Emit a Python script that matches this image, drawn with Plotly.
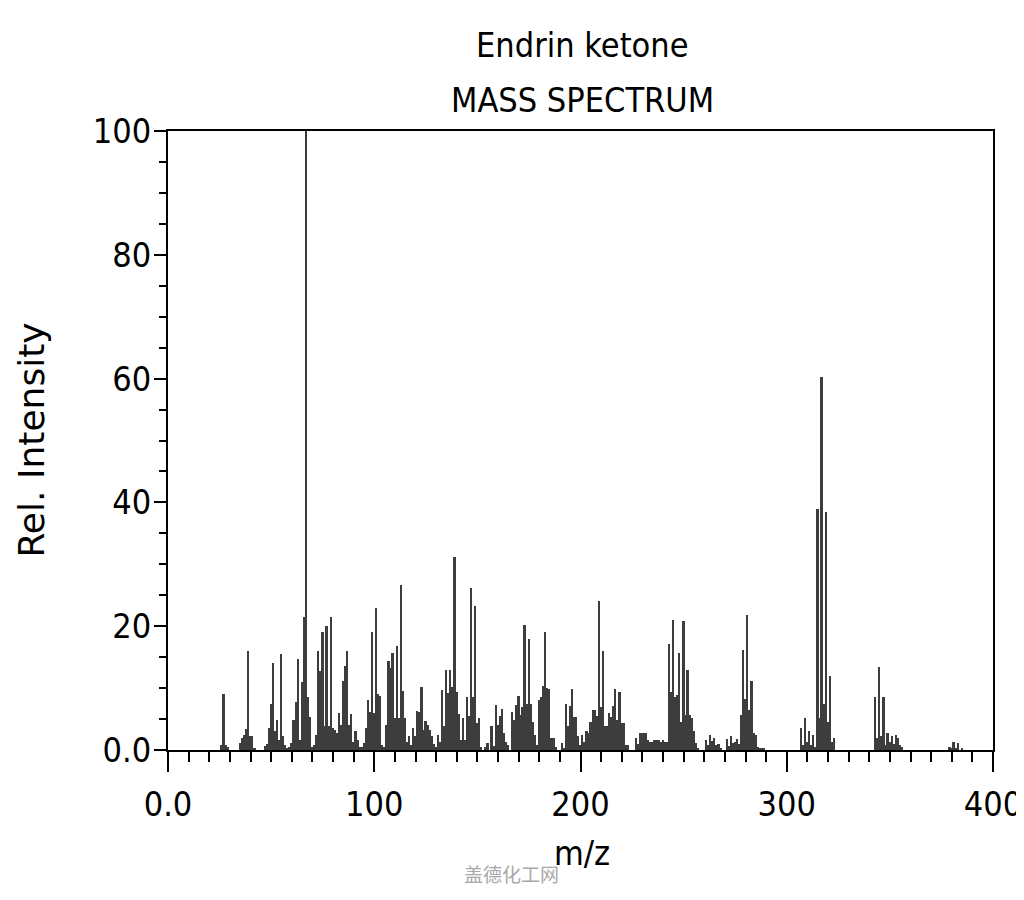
import plotly.graph_objects as go

# m/z values and relative intensities
mz = [26, 27, 28, 29, 35, 36, 37, 38, 39, 40, 41, 42,
      47, 48, 49, 50, 51, 52, 53, 54, 55, 56, 57, 58, 59,
      60, 61, 62, 63, 64, 65, 66, 67, 68, 69, 70, 71,
      72, 73, 74, 75, 76, 77, 78, 79, 80, 81, 82, 83, 84, 85, 86, 87, 88, 89,
      90, 91, 92, 93, 94, 95, 96, 97, 98, 99, 100, 101, 102, 103, 104, 105,
      106, 107, 108, 109, 110, 111, 112, 113, 114, 115, 116, 117, 118, 119,
      120, 121, 122, 123, 124, 125, 126, 127, 128, 129, 130,
      131, 132, 133, 134, 135, 136, 137, 138, 139, 140, 141, 142, 143, 144,
      145, 146, 147, 148, 149, 150, 151, 152,
      154, 155, 157, 158, 159, 160, 161, 162, 163, 164, 165,
      167, 168, 169, 170, 171, 172, 173, 174, 175, 176, 177, 178, 179,
      180, 181, 182, 183, 184, 185, 186, 187, 188,
      191, 192, 193, 194, 195, 196, 197, 198, 199, 200, 201, 202, 203, 204,
      205, 206, 207, 208, 209, 210, 211, 212, 213, 214, 215, 216, 217, 218,
      219, 220, 221, 222, 223,
      227, 228, 229, 230, 231, 232, 233, 234, 235, 236, 237, 238, 239, 240,
      241, 242, 243, 244, 245, 246, 247, 248, 249, 250, 251, 252, 253, 254,
      255, 256, 257,
      261, 262, 263, 264, 265, 266, 267, 268,
      271, 272, 273, 274, 275, 276, 277, 278, 279, 280, 281, 282, 283, 284,
      285, 286, 287, 288, 289,
      307, 308, 309, 310, 311, 312, 313, 314, 315, 316, 317, 318, 319, 320,
      321, 322, 323,
      343, 344, 345, 346, 347, 348, 349, 350, 351, 352, 353, 354, 355, 356,
      379, 380, 381, 382, 383, 385]

intensity = [0.8, 9.0, 0.8, 0.5, 1.1, 2.0, 2.4, 3.4, 16.0, 2.3, 2.2, 0.4,
             0.7, 1.0, 3.5, 7.4, 14.0, 3.0, 4.8, 1.6, 15.5, 2.3, 0.8, 0.3, 0.5,
             1.2, 4.8, 7.8, 14.7, 1.6, 11.0, 21.5, 100.0, 8.5, 5.4, 0.5, 0.8,
             2.4, 16.0, 12.7, 19.0, 3.8, 20.1, 3.8, 21.5, 3.5, 3.2, 2.7, 6.0, 4.0, 11.2, 13.6, 16.0, 4.0, 5.8,
             1.3, 3.1, 1.6, 0.5, 0.5, 1.1, 3.5, 8.1, 6.2, 19.0, 5.9, 22.9, 9.0, 8.8, 0.8, 0.5,
             4.0, 14.4, 13.2, 15.6, 5.1, 16.8, 5.1, 26.7, 9.6, 5.1, 1.3, 2.2, 0.8, 3.5,
             2.2, 6.3, 6.2, 10.1, 3.2, 4.7, 4.0, 3.2, 2.2, 0.9, 0.5,
             2.4, 1.3, 9.7, 3.8, 12.9, 9.2, 12.9, 10.2, 31.1, 9.4, 5.8, 1.6, 5.1, 1.6,
             8.5, 5.5, 26.1, 8.5, 23.2, 4.3, 5.2, 0.5,
             0.5, 1.1, 3.8, 0.7, 7.3, 4.0, 5.5, 6.7, 2.8, 1.3, 0.8,
             6.2, 4.8, 7.3, 8.8, 5.7, 7.0, 20.2, 7.5, 17.9, 7.5, 4.6, 2.4, 0.8,
             8.1, 8.6, 10.3, 19.0, 10.0, 9.8, 2.0, 2.0, 0.5,
             1.1, 0.3, 7.4, 3.8, 7.1, 9.8, 5.4, 5.4, 2.2, 0.8, 2.5, 1.3, 3.1, 2.7,
             4.6, 6.4, 6.4, 5.5, 24.0, 7.0, 16.0, 3.8, 3.8, 5.9, 5.4, 7.1, 9.9, 4.8,
             9.4, 4.3, 4.3, 0.8, 0.8,
             2.0, 0.9, 2.8, 2.7, 2.7, 2.7, 1.6, 1.3, 1.3, 1.6, 1.6, 1.6, 1.3, 1.6,
             1.3, 1.3, 17.2, 9.4, 21.0, 8.5, 8.9, 15.6, 4.6, 20.8, 5.7, 12.9, 5.6, 5.2,
             3.1, 1.1, 0.4,
             1.6, 0.8, 2.4, 1.5, 2.0, 0.8, 1.0, 0.4,
             1.8, 0.6, 2.2, 1.1, 1.3, 1.8, 1.0, 5.7, 16.2, 8.3, 21.8, 6.5, 11.1, 2.7,
             2.4, 0.5, 0.4, 0.4, 0.3,
             3.5, 0.8, 5.1, 1.3, 3.0, 0.8, 2.5, 0.5, 38.9, 5.2, 60.2, 7.5, 38.4, 4.6,
             12.0, 1.3, 2.0,
             8.5, 1.9, 13.4, 2.2, 8.5, 0.8, 2.8, 1.3, 2.2, 0.9, 2.5, 1.9, 0.8, 0.5,
             0.5, 0.3, 1.3, 0.4, 1.1, 0.3]

x_tickvals = [0, 100, 200, 300, 400]
x_ticktext = ["0.0", "100", "200", "300", "400"]
y_tickvals = [0, 20, 40, 60, 80, 100]
y_ticktext = ["0.0", "20", "40", "60", "80", "100"]

title_line1 = "Endrin ketone"
title_line2 = "MASS SPECTRUM"
x_label = "m/z"
y_label = "Rel. Intensity"
watermark = "盖德化工网"

FONT = "DejaVu Sans Condensed, DejaVu Sans, sans-serif"

fig = go.Figure()
fig.add_trace(go.Bar(
    x=mz, y=intensity, width=0.85,
    marker=dict(color="#3d3d3d", line=dict(width=0)),
    hoverinfo="x+y", showlegend=False,
))

# the page body adds an 8px offset; figure size and margins compensate for it
fig.update_layout(
    width=1016, height=880, autosize=False,
    margin=dict(l=160, r=31, t=123, b=138),
    paper_bgcolor="white", plot_bgcolor="white",
    bargap=0,
    font=dict(family=FONT, color="black"),
    annotations=[
        dict(text=title_line1, x=0.502, y=1.139, xref="paper", yref="paper",
             showarrow=False, xanchor="center", yanchor="middle",
             font=dict(family=FONT, size=34, color="black")),
        dict(text=title_line2, x=0.502, y=1.050, xref="paper", yref="paper",
             showarrow=False, xanchor="center", yanchor="middle",
             font=dict(family=FONT, size=34, color="black")),
        dict(text=x_label, x=0.502, y=-0.166, xref="paper", yref="paper",
             showarrow=False, xanchor="center", yanchor="middle",
             font=dict(family=FONT, size=34, color="black")),
        dict(text=y_label, x=-0.166, y=0.50, xref="paper", yref="paper",
             showarrow=False, xanchor="center", yanchor="middle", textangle=-90,
             font=dict(family="DejaVu Sans, sans-serif", size=36, color="black")),
        dict(text=watermark, x=0.416, y=-0.199, xref="paper", yref="paper",
             showarrow=False, xanchor="center", yanchor="middle",
             font=dict(family="Noto Sans CJK SC", size=19, color="#a8a8a8")),
    ],
)

fig.update_xaxes(
    range=[0, 400], tickvals=x_tickvals, ticktext=x_ticktext,
    showgrid=False, zeroline=False, automargin=False,
    showline=True, linecolor="black", linewidth=2, mirror=True,
    ticks="outside", ticklen=20, tickwidth=2, tickcolor="black",
    ticklabelstandoff=3,
    tickfont=dict(family=FONT, size=34, color="black"),
    minor=dict(dtick=10, tick0=0, ticks="outside", ticklen=10, tickwidth=1.5,
               tickcolor="black", showgrid=False),
)
fig.update_yaxes(
    range=[0, 100], tickvals=y_tickvals, ticktext=y_ticktext,
    showgrid=False, zeroline=False, automargin=False,
    showline=True, linecolor="black", linewidth=2, mirror=True,
    ticks="outside", ticklen=12, tickwidth=2, tickcolor="black",
    ticklabelstandoff=-4,
    tickfont=dict(family=FONT, size=34, color="black"),
    minor=dict(dtick=5, tick0=0, ticks="outside", ticklen=7, tickwidth=1.5,
               tickcolor="black", showgrid=False),
)

fig.write_html("out.html")
